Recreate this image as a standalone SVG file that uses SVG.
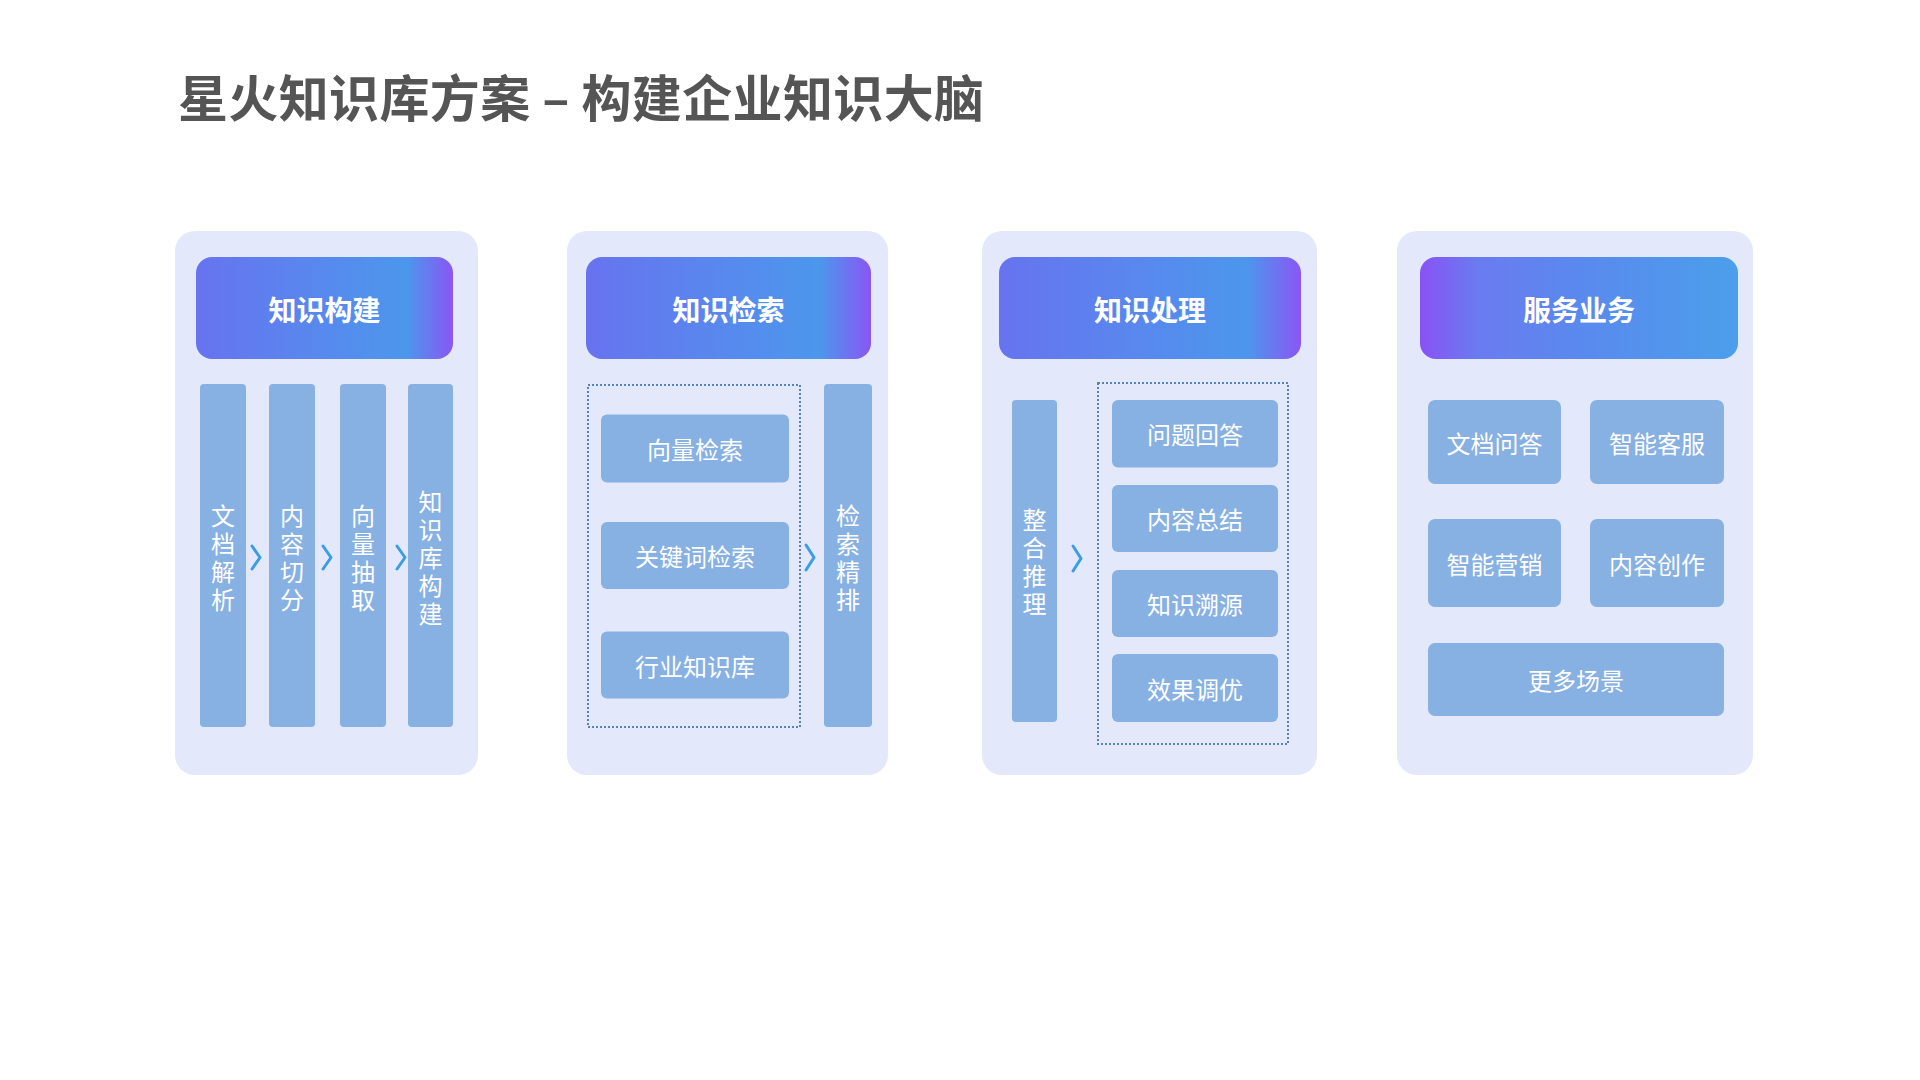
<svg xmlns="http://www.w3.org/2000/svg" width="1920" height="1080" viewBox="0 0 1920 1080">
  <defs>
    <linearGradient id="hdrA" x1="0" y1="0" x2="1" y2="0">
      <stop offset="0" stop-color="#6773ef"/>
      <stop offset="0.45" stop-color="#5987ee"/>
      <stop offset="0.82" stop-color="#4c97ec"/>
      <stop offset="1" stop-color="#8a56f4"/>
    </linearGradient>
    <linearGradient id="hdrB" x1="0" y1="0" x2="1" y2="0">
      <stop offset="0" stop-color="#8952f5"/>
      <stop offset="0.18" stop-color="#6a7bf0"/>
      <stop offset="0.5" stop-color="#5a89ee"/>
      <stop offset="1" stop-color="#4b9feb"/>
    </linearGradient>
    <style>
      .panel { fill: #e3e9fb; }
      .hdr-text { font-family: "Noto Sans CJK SC", "Noto Sans", sans-serif; font-weight: 700; font-size: 28px; fill: #ffffff; text-anchor: middle; dominant-baseline: central; }
      .box { fill: #87b0e3; }
      .box-text { font-family: "Noto Sans CJK SC", "Noto Sans", sans-serif; font-weight: 400; font-size: 24px; fill: #ffffff; text-anchor: middle; dominant-baseline: central; }
      .vtext { font-family: "Noto Sans CJK SC", "Noto Sans", sans-serif; font-weight: 400; font-size: 24px; fill: #ffffff; text-anchor: middle; writing-mode: vertical-rl; text-orientation: upright; letter-spacing: 4px; }
      .dotted { fill: none; stroke: #5b80b3; stroke-width: 2; stroke-dasharray: 2 2; }
      .chev { fill: none; stroke: #3b9de6; stroke-width: 3; stroke-linecap: round; stroke-linejoin: round; }
      .title { font-family: "Noto Sans CJK SC", "Noto Sans", sans-serif; font-weight: 700; font-size: 50px; fill: #555555; dominant-baseline: central; }
    </style>
  </defs>

  <rect width="1920" height="1080" fill="#ffffff"/>

  <text id="title" class="title" x="178" y="95" textLength="806" lengthAdjust="spacing">星火知识库方案 – 构建企业知识大脑</text>

  <!-- Panel 1: 知识构建 -->
  <g id="panel-build">
    <rect class="panel" x="175" y="231" width="303" height="544" rx="20"/>
    <g id="hdr-build">
      <rect x="196" y="257" width="257" height="102" rx="16" fill="url(#hdrA)"/>
      <text class="hdr-text" x="324.5" y="309">知识构建</text>
    </g>
    <g id="col-parse">
      <rect class="box" x="200" y="384" width="46" height="343" rx="4"/>
      <text class="vtext" x="223" y="559.5">文档解析</text>
    </g>
    <g id="col-split">
      <rect class="box" x="269" y="384" width="46" height="343" rx="4"/>
      <text class="vtext" x="292" y="559.5">内容切分</text>
    </g>
    <g id="col-vector">
      <rect class="box" x="340" y="384" width="46" height="343" rx="4"/>
      <text class="vtext" x="363" y="559.5">向量抽取</text>
    </g>
    <g id="col-kb">
      <rect class="box" x="408" y="384" width="45" height="343" rx="4"/>
      <text class="vtext" x="430.5" y="559.5">知识库构建</text>
    </g>
  </g>

  <!-- Panel 2: 知识检索 -->
  <g id="panel-retrieve">
    <rect class="panel" x="567" y="231" width="321" height="544" rx="20"/>
    <g id="hdr-retrieve">
      <rect x="586" y="257" width="285" height="102" rx="16" fill="url(#hdrA)"/>
      <text class="hdr-text" x="728.5" y="309">知识检索</text>
    </g>
    <rect id="group-retrieve" class="dotted" x="588" y="385" width="212" height="342"/>
    <g id="box-vector-search">
      <rect class="box" x="601" y="414.5" width="188" height="68" rx="6"/>
      <text class="box-text" x="695" y="448.5">向量检索</text>
    </g>
    <g id="box-keyword-search">
      <rect class="box" x="601" y="522" width="188" height="67" rx="6"/>
      <text class="box-text" x="695" y="555.5">关键词检索</text>
    </g>
    <g id="box-industry-kb">
      <rect class="box" x="601" y="631.5" width="188" height="67" rx="6"/>
      <text class="box-text" x="695" y="665">行业知识库</text>
    </g>
    <g id="col-rerank">
      <rect class="box" x="824" y="384" width="48" height="343" rx="4"/>
      <text class="vtext" x="848" y="559.5">检索精排</text>
    </g>
  </g>

  <!-- Panel 3: 知识处理 -->
  <g id="panel-process">
    <rect class="panel" x="982" y="231" width="335" height="544" rx="20"/>
    <g id="hdr-process">
      <rect x="999" y="257" width="302" height="102" rx="16" fill="url(#hdrA)"/>
      <text class="hdr-text" x="1150" y="309">知识处理</text>
    </g>
    <g id="col-reason">
      <rect class="box" x="1012" y="400" width="45" height="322" rx="4"/>
      <text class="vtext" x="1034.5" y="563.5">整合推理</text>
    </g>
    <rect id="group-process" class="dotted" x="1098" y="383" width="190" height="361"/>
    <g id="box-qa">
      <rect class="box" x="1112" y="400" width="166" height="67.5" rx="6"/>
      <text class="box-text" x="1195" y="433.5">问题回答</text>
    </g>
    <g id="box-summary">
      <rect class="box" x="1112" y="485" width="166" height="67" rx="6"/>
      <text class="box-text" x="1195" y="518.5">内容总结</text>
    </g>
    <g id="box-trace">
      <rect class="box" x="1112" y="570" width="166" height="67" rx="6"/>
      <text class="box-text" x="1195" y="603.5">知识溯源</text>
    </g>
    <g id="box-tune">
      <rect class="box" x="1112" y="654" width="166" height="68" rx="6"/>
      <text class="box-text" x="1195" y="688">效果调优</text>
    </g>
  </g>

  <!-- Panel 4: 服务业务 -->
  <g id="panel-service">
    <rect class="panel" x="1397" y="231" width="356" height="544" rx="20"/>
    <g id="hdr-service">
      <rect x="1420" y="257" width="318" height="102" rx="16" fill="url(#hdrB)"/>
      <text class="hdr-text" x="1579" y="309">服务业务</text>
    </g>
    <g id="box-docqa">
      <rect class="box" x="1428" y="400" width="133" height="84" rx="7"/>
      <text class="box-text" x="1494.5" y="442">文档问答</text>
    </g>
    <g id="box-cs">
      <rect class="box" x="1590" y="400" width="134" height="84" rx="7"/>
      <text class="box-text" x="1657" y="442">智能客服</text>
    </g>
    <g id="box-marketing">
      <rect class="box" x="1428" y="519" width="133" height="88" rx="7"/>
      <text class="box-text" x="1494.5" y="563">智能营销</text>
    </g>
    <g id="box-creation">
      <rect class="box" x="1590" y="519" width="134" height="88" rx="7"/>
      <text class="box-text" x="1657" y="563">内容创作</text>
    </g>
    <g id="box-more">
      <rect class="box" x="1428" y="643" width="296" height="73" rx="7"/>
      <text class="box-text" x="1576" y="679.5">更多场景</text>
    </g>
  </g>

  <!-- Connectors (chevrons) -->
  <g id="connectors">
    <polyline class="chev" points="252,546 260,557.5 252,569"/>
    <polyline class="chev" points="323,546 331,557.5 323,569"/>
    <polyline class="chev" points="397,546 405,557.5 397,569"/>
    <polyline class="chev" points="806,545 814,557.5 806,570"/>
    <polyline class="chev" points="1073,546 1081,558.5 1073,571"/>
  </g>
</svg>
